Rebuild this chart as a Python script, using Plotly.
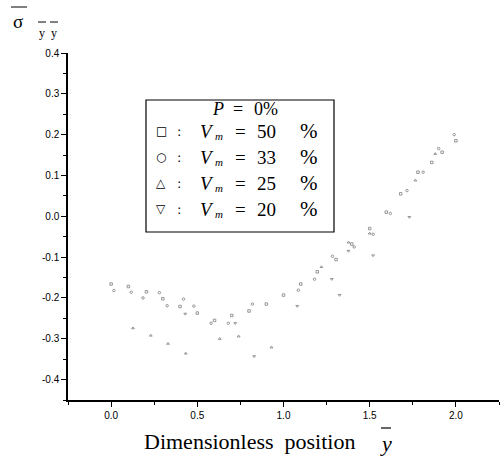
import plotly.graph_objects as go

# ---- data ----
x_vm50 = [0.0, 0.10, 0.205, 0.30, 0.40, 0.50, 0.60, 0.70, 0.80, 0.90, 1.00, 1.10, 1.196, 1.305, 1.396, 1.50, 1.596, 1.68, 1.78, 1.86, 1.92, 2.0]
y_vm50 = [-0.166, -0.172, -0.185, -0.202, -0.221, -0.237, -0.255, -0.243, -0.232, -0.215, -0.193, -0.166, -0.136, -0.106, -0.068, -0.030, 0.010, 0.055, 0.108, 0.132, 0.157, 0.185]

x_vm33 = [0.016, 0.117, 0.185, 0.28, 0.325, 0.42, 0.48, 0.58, 0.68, 0.82, 1.086, 1.18, 1.284, 1.41, 1.52, 1.62, 1.716, 1.81, 1.90, 1.99]
y_vm33 = [-0.182, -0.186, -0.200, -0.187, -0.219, -0.203, -0.220, -0.262, -0.262, -0.215, -0.181, -0.154, -0.098, -0.075, -0.044, 0.007, 0.063, 0.108, 0.166, 0.200]

x_vm25 = [0.127, 0.23, 0.33, 0.433, 0.63, 0.74, 0.93, 1.22, 1.377, 1.50, 1.765, 1.88]
y_vm25 = [-0.274, -0.292, -0.312, -0.336, -0.300, -0.294, -0.321, -0.124, -0.064, -0.042, 0.088, 0.153]

x_vm20 = [0.43, 0.72, 0.83, 1.08, 1.28, 1.325, 1.377, 1.52, 1.73]
y_vm20 = [-0.239, -0.262, -0.343, -0.220, -0.154, -0.193, -0.085, -0.096, -0.002]

x_ticks = [0.0, 0.5, 1.0, 1.5, 2.0]
y_ticks = [-0.4, -0.3, -0.2, -0.1, 0.0, 0.1, 0.2, 0.3, 0.4]
legend_values = ["50", "33", "25", "20"]
legend_glyphs = ["\u25a1", "\u25cb", "\u25b3", "\u25bd"]

# ---- figure ----
W, H = 503, 459
L, R, T, B = 68, 4, 53, 59
pw, ph = W - L - R, H - T - B

def px(xp):
    return (xp - L) / pw

def py(yp):
    return (H - B - yp) / ph

fig = go.Figure()
series = [
    (x_vm50, y_vm50, "square-open"),
    (x_vm33, y_vm33, "circle-open"),
    (x_vm25, y_vm25, "triangle-up-open"),
    (x_vm20, y_vm20, "triangle-down-open"),
]
for xs, ys, sym in series:
    fig.add_trace(go.Scatter(
        x=xs, y=ys, mode="markers", showlegend=False,
        marker=dict(symbol=sym, size=2.5, color="#808080", line=dict(width=0.8, color="#808080")),
    ))

axis_common = dict(
    showgrid=False, zeroline=False, showline=True, linecolor="black", linewidth=1.5,
    ticks="outside", ticklen=5, tickwidth=1.2, tickcolor="black",
    tickfont=dict(family="Liberation Sans, Arial", size=10, color="black"),
    mirror=False,
)
fig.update_xaxes(range=[-0.25, 2.25], tickvals=x_ticks, ticktext=[f"{v:.1f}" for v in x_ticks],
                 minor=dict(ticks="outside", ticklen=3, dtick=0.25, tick0=0, tickcolor="black", tickwidth=1),
                 **axis_common)
fig.update_yaxes(range=[-0.45, 0.4], tickvals=y_ticks, ticktext=[f"{v:.1f}" for v in y_ticks],
                 minor=dict(ticks="outside", ticklen=3, dtick=0.05, tick0=0, tickcolor="black", tickwidth=1),
                 **axis_common)

serif = "Liberation Serif, Times New Roman, serif"
ann = []
shapes = []

def text(xp, yp, t, size, family=serif, anchor="center"):
    ann.append(dict(x=px(xp), y=py(yp), xref="paper", yref="paper", text=t, showarrow=False,
                    font=dict(family=family, size=size, color="black"), xanchor=anchor, yanchor="middle"))

def hline(x0, x1, yp, w=1):
    shapes.append(dict(type="line", xref="paper", yref="paper", x0=px(x0), x1=px(x1), y0=py(yp), y1=py(yp),
                       line=dict(color="black", width=w)))

# y axis label: sigma with overbar and subscripts y y with bars
text(18, 22, "\u03c3", 19)
text(42, 33, "y", 12)
text(54, 33, "y", 12)
hline(11, 27, 7)
hline(38, 46, 22)
hline(50, 58, 22)

# x axis title
text(249, 441, "Dimensionless  position", 22)
text(386, 443, "<i>y</i>", 22)
hline(381, 391, 428, 1.2)

# legend box
shapes.append(dict(type="rect", xref="paper", yref="paper", x0=px(146), x1=px(334), y0=py(100), y1=py(232),
                   line=dict(color="black", width=1.2), fillcolor="rgba(0,0,0,0)"))
text(218, 109, "<i>P</i>", 18)
text(238, 109, "=", 18)
text(266, 109, "0%", 18)
row_y = [131, 157, 183, 209]
for gy, glyph, val in zip(row_y, legend_glyphs, legend_values):
    text(161, gy, glyph, 12, family="DejaVu Sans")
    text(179, gy, ":", 13, family="DejaVu Sans")
    text(207, gy, "<i>V</i>", 19)
    text(219, gy + 5, "<i>m</i>", 11)
    text(240, gy, "=", 19)
    text(266, gy, val, 19)
    text(309, gy, "%", 21)

fig.update_layout(
    width=W, height=H, margin=dict(l=L, r=R, t=T, b=B),
    paper_bgcolor="white", plot_bgcolor="white",
    annotations=ann, shapes=shapes,
)
fig.write_html("out.html")
